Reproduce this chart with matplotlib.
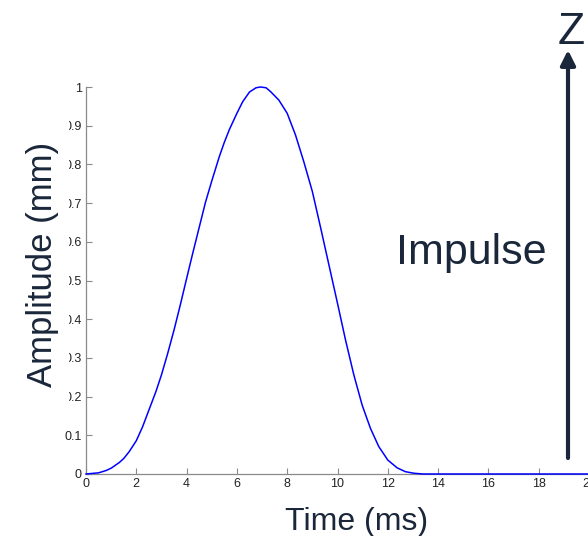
import matplotlib
matplotlib.use('Agg')
import matplotlib.pyplot as plt
from matplotlib.patches import Rectangle

plt.rcParams['font.family'] = ['Liberation Sans', 'DejaVu Sans']

# values
time_ms = [0, 0.5, 0.8, 1.0, 1.33, 1.5, 1.72, 2.0, 2.25, 2.5, 2.78, 3.0, 3.25,
           3.5, 3.75, 4.0, 4.25, 4.5, 4.75, 5.0, 5.3, 5.5, 5.7, 6.0, 6.23, 6.5,
           6.76, 6.94, 7.16, 7.34, 7.67, 8.0, 8.33, 8.66, 9.0, 9.32, 9.66, 10.0,
           10.32, 10.65, 10.98, 11.31, 11.64, 12.0, 12.37, 12.7, 13.03, 13.4, 20.0]
amplitude = [0, 0.003, 0.009, 0.015, 0.03, 0.04, 0.058, 0.086, 0.122, 0.165,
             0.213, 0.256, 0.312, 0.372, 0.437, 0.505, 0.572, 0.637, 0.702, 0.757,
             0.82, 0.857, 0.89, 0.932, 0.962, 0.987, 0.998, 1.0, 0.998, 0.988,
             0.966, 0.932, 0.876, 0.807, 0.73, 0.639, 0.54, 0.441, 0.346, 0.256,
             0.178, 0.118, 0.071, 0.036, 0.016, 0.006, 0.002, 0, 0]
x_ticks = [0, 2, 4, 6, 8, 10, 12, 14, 16, 18, 20]
y_ticks = [0, 0.1, 0.2, 0.3, 0.4, 0.5, 0.6, 0.7, 0.8, 0.9, 1]
y_tick_labels = ['0', '0.1', '0.2', '0.3', '0.4', '0.5', '0.6', '0.7', '0.8', '0.9', '1']

W, H = 588, 536
navy = '#1a2639'

fig = plt.figure(figsize=(W / 100, H / 100), dpi=100)
ax = fig.add_axes([86 / W, 62 / H, 503 / W, 387 / H])

ax.plot(time_ms, amplitude, color='#0000ff', lw=1.1, clip_on=False, zorder=5)

ax.set_xlim(0, 20)
ax.set_ylim(0, 1)
ax.set_xticks(x_ticks)
ax.set_yticks(y_ticks)
ax.set_yticklabels(y_tick_labels)

for side in ['top', 'right']:
    ax.spines[side].set_visible(False)
for side in ['left', 'bottom']:
    ax.spines[side].set_color('#8a8a8a')
    ax.spines[side].set_linewidth(0.9)
ax.tick_params(direction='in', length=4, width=0.8, color='#8a8a8a',
               labelsize=9, labelcolor='#222222', pad=3)

# white box behind the y label hides part of the tick labels
fig.add_artist(Rectangle((0, 1 - 418 / H), 69 / W, 310 / H,
                         transform=fig.transFigure, facecolor='white',
                         edgecolor='none', zorder=3))

# slide text
fig.text(396 / W, 1 - 264 / H, 'Impulse', fontsize=31, color=navy, va='baseline')
fig.text(285 / W, 1 - 530 / H, 'Time (ms)', fontsize=23, color=navy, va='baseline')
fig.text(43 / W, 1 - 264 / H, 'Amplitude (mm)', fontsize=25, color=navy,
         rotation=90, ha='center', va='center', zorder=4)
fig.text(571 / W, 1 - 44 / H, 'Z', fontsize=32, color=navy, ha='center', va='baseline')

# arrow up to Z
ax.annotate('', xy=(568, H - 50), xytext=(568, H - 458),
            xycoords='figure pixels', textcoords='figure pixels',
            arrowprops=dict(arrowstyle='-|>', color=navy, lw=3,
                            mutation_scale=22, shrinkA=0, shrinkB=0),
            annotation_clip=False)

fig.savefig('out.png', dpi=100)
